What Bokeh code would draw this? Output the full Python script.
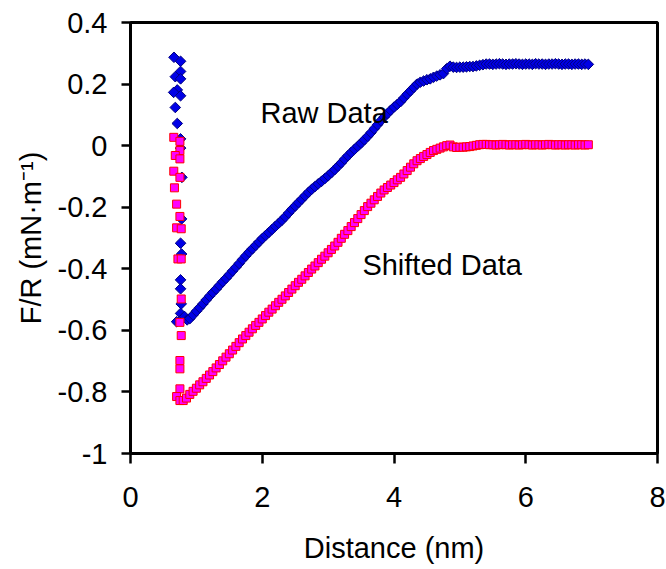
import math
from bokeh.plotting import figure
from bokeh.models import Range1d, FixedTicker, Label
from bokeh.embed import file_html
from bokeh.resources import INLINE

# ---------------- data ----------------
# Raw Data (blue diamonds): steep jump-in region, then the force curve
raw_jump_x = [0.66, 0.76, 0.76, 0.68, 0.76, 0.71, 0.655, 0.76, 0.68, 0.71, 0.76, 0.76,
              0.78, 0.775, 0.76, 0.775, 0.76, 0.76, 0.77, 0.76, 0.70, 0.80]
raw_jump_y = [0.287, 0.274, 0.241, 0.224, 0.217, 0.181, 0.173, 0.162, 0.124, 0.072, 0.022, -0.008,
              -0.103, -0.238, -0.317, -0.352, -0.436, -0.465, -0.514, -0.545, -0.572, -0.560]

raw_x = [0.82, 0.86, 0.90, 0.95, 1.00, 1.05, 1.10, 1.15, 1.20, 1.25, 1.30, 1.35, 1.40, 1.45,
         1.50, 1.55, 1.60, 1.65, 1.70, 1.75, 1.80, 1.85, 1.90, 1.95, 2.00, 2.05, 2.10, 2.15,
         2.20, 2.25, 2.30, 2.35, 2.40, 2.45, 2.50, 2.55, 2.60, 2.65, 2.70, 2.75, 2.80, 2.85,
         2.90, 2.95, 3.00, 3.05, 3.10, 3.15, 3.20, 3.25, 3.30, 3.35, 3.40, 3.45, 3.50, 3.55,
         3.60, 3.65, 3.70, 3.75, 3.80, 3.85, 3.90, 3.95, 4.00, 4.05, 4.10, 4.15, 4.20, 4.25,
         4.30, 4.35, 4.40, 4.45, 4.50, 4.55, 4.60, 4.65, 4.70, 4.75, 4.80, 4.85, 4.90, 4.95,
         5.00, 5.05, 5.10, 5.15, 5.20, 5.25, 5.30, 5.35, 5.40, 5.45, 5.50, 5.55, 5.60, 5.65,
         5.70, 5.75, 5.80, 5.85, 5.90, 5.95, 6.00, 6.05, 6.10, 6.15, 6.20, 6.25, 6.30, 6.35,
         6.40, 6.45, 6.50, 6.55, 6.60, 6.65, 6.70, 6.75, 6.80, 6.85, 6.90, 6.95]
raw_y = [-0.555, -0.566, -0.562, -0.550, -0.538, -0.526, -0.514, -0.501, -0.489, -0.477,
         -0.466, -0.454, -0.442, -0.431, -0.419, -0.407, -0.395, -0.383, -0.370, -0.358,
         -0.346, -0.335, -0.324, -0.313, -0.302, -0.292, -0.282, -0.272, -0.262, -0.252,
         -0.242, -0.231, -0.219, -0.207, -0.196, -0.185, -0.174, -0.163, -0.152, -0.142,
         -0.133, -0.124, -0.116, -0.107, -0.098, -0.088, -0.078, -0.067, -0.056, -0.044,
         -0.033, -0.022, -0.012, -0.002, 0.008, 0.019, 0.030, 0.042, 0.055, 0.068,
         0.081, 0.093, 0.104, 0.115, 0.125, 0.134, 0.143, 0.155, 0.167, 0.178,
         0.189, 0.200, 0.206, 0.210, 0.214, 0.217, 0.222, 0.226, 0.230, 0.234,
         0.250, 0.258, 0.255, 0.254, 0.255, 0.255, 0.256, 0.257, 0.257, 0.259,
         0.261, 0.263, 0.265, 0.265, 0.264, 0.265, 0.266, 0.265, 0.264, 0.265,
         0.265, 0.266, 0.265, 0.264, 0.265, 0.265, 0.264, 0.266, 0.265, 0.265,
         0.264, 0.265, 0.265, 0.266, 0.265, 0.264, 0.265, 0.265, 0.264, 0.265,
         0.265, 0.264, 0.265, 0.264]

# Shifted Data (pink squares)
shift_jump_x = [0.657, 0.75, 0.75, 0.68, 0.75, 0.657, 0.75, 0.667, 0.70, 0.75, 0.70, 0.77,
                0.72, 0.77, 0.77, 0.75, 0.77, 0.75, 0.75, 0.75, 0.70, 0.75]
shift_jump_y = [0.027, 0.014, -0.016, -0.032, -0.043, -0.083, -0.103, -0.137, -0.190, -0.230,
                -0.267, -0.270, -0.368, -0.368, -0.498, -0.574, -0.617, -0.698, -0.725, -0.790,
                -0.815, -0.828]

shift_x = [0.80, 0.85, 0.90, 0.95, 1.00, 1.05, 1.10, 1.15, 1.20, 1.25, 1.30, 1.35, 1.40, 1.45,
           1.50, 1.55, 1.60, 1.65, 1.70, 1.75, 1.80, 1.85, 1.90, 1.95, 2.00, 2.05, 2.10, 2.15,
           2.20, 2.25, 2.30, 2.35, 2.40, 2.45, 2.50, 2.55, 2.60, 2.65, 2.70, 2.75, 2.80, 2.85,
           2.90, 2.95, 3.00, 3.05, 3.10, 3.15, 3.20, 3.25, 3.30, 3.35, 3.40, 3.45, 3.50, 3.55,
           3.60, 3.65, 3.70, 3.75, 3.80, 3.85, 3.90, 3.95, 4.00, 4.05, 4.10, 4.15, 4.20, 4.25,
           4.30, 4.35, 4.40, 4.45, 4.50, 4.55, 4.60, 4.65, 4.70, 4.75, 4.80, 4.85, 4.90, 4.95,
           5.00, 5.05, 5.10, 5.15, 5.20, 5.25, 5.30, 5.35, 5.40, 5.45, 5.50, 5.55, 5.60, 5.65,
           5.70, 5.75, 5.80, 5.85, 5.90, 5.95, 6.00, 6.05, 6.10, 6.15, 6.20, 6.25, 6.30, 6.35,
           6.40, 6.45, 6.50, 6.55, 6.60, 6.65, 6.70, 6.75, 6.80, 6.85, 6.90, 6.95]
shift_y = [-0.828, -0.820, -0.808, -0.798, -0.788, -0.777, -0.767, -0.756, -0.745, -0.734,
           -0.722, -0.711, -0.699, -0.687, -0.676, -0.664, -0.652, -0.640, -0.628, -0.617,
           -0.606, -0.595, -0.584, -0.574, -0.563, -0.552, -0.541, -0.531, -0.520, -0.509,
           -0.499, -0.488, -0.477, -0.466, -0.455, -0.444, -0.434, -0.423, -0.412, -0.401,
           -0.391, -0.380, -0.369, -0.359, -0.348, -0.337, -0.326, -0.314, -0.301, -0.288,
           -0.276, -0.263, -0.250, -0.237, -0.224, -0.211, -0.198, -0.187, -0.176, -0.165,
           -0.154, -0.144, -0.136, -0.128, -0.120, -0.111, -0.103, -0.092, -0.081, -0.070,
           -0.059, -0.049, -0.042, -0.035, -0.029, -0.022, -0.016, -0.012, -0.008, -0.004,
           0.000, 0.002, -0.004, -0.006, -0.005, -0.005, -0.004, -0.003, -0.001, 0.001,
           0.003, 0.004, 0.004, 0.003, 0.003, 0.002, 0.003, 0.004, 0.003, 0.002,
           0.003, 0.003, 0.002, 0.003, 0.004, 0.003, 0.002, 0.003, 0.003, 0.002,
           0.003, 0.004, 0.003, 0.002, 0.003, 0.003, 0.002, 0.003, 0.003, 0.002,
           0.003, 0.003, 0.002, 0.003]

x_ticks = [0, 2, 4, 6, 8]
x_tick_labels = ["0", "2", "4", "6", "8"]
y_ticks = [-1, -0.8, -0.6, -0.4, -0.2, 0, 0.2, 0.4]
y_tick_labels = ["-1", "-0.8", "-0.6", "-0.4", "-0.2", "0", "0.2", "0.4"]

# ---------------- figure ----------------
FONT = "Liberation Sans"
FS = "29px"

p = figure(width=666, height=569, output_backend="svg", toolbar_location=None,
           x_range=Range1d(0, 8), y_range=Range1d(-1, 0.4),
           min_border_left=130, min_border_right=9, min_border_top=22, min_border_bottom=116)

p.background_fill_color = "white"
p.border_fill_color = "white"
p.grid.visible = False
p.outline_line_color = "black"
p.outline_line_width = 3

for ax in (p.xaxis[0], p.yaxis[0]):
    ax.axis_line_color = "black"
    ax.axis_line_width = 3
    ax.major_tick_line_color = "black"
    ax.major_tick_line_width = 2.5
    ax.minor_tick_line_color = None
    ax.major_tick_in = 0
    ax.major_label_text_font = FONT
    ax.major_label_text_font_size = FS
    ax.major_label_text_color = "black"
    ax.axis_label_text_font = FONT
    ax.axis_label_text_font_size = FS
    ax.axis_label_text_font_style = "normal"
    ax.axis_label_text_color = "black"

p.xaxis.ticker = FixedTicker(ticks=x_ticks)
p.xaxis.major_label_overrides = dict(zip(x_ticks, x_tick_labels))
p.xaxis.major_tick_out = 10
p.xaxis.major_label_standoff = 23
p.xaxis.axis_label = "Distance (nm)"
p.xaxis.axis_label_standoff = 22

p.yaxis.ticker = FixedTicker(ticks=y_ticks)
p.yaxis.major_label_overrides = dict(zip(y_ticks, y_tick_labels))
p.yaxis.major_tick_out = 9
p.yaxis.major_label_standoff = 14
p.yaxis.axis_label = "F/R (mN\u00b7m\u207b\u00b9)"
p.yaxis.axis_label_standoff = 8

# Raw data (blue diamonds)
p.scatter(raw_jump_x + raw_x, raw_jump_y + raw_y, marker="square", angle=math.pi / 4,
          size=7.5, fill_color="#0000E6", line_color="#000080", line_width=1)
# Shifted data (pink squares)
p.scatter(shift_jump_x + shift_x, shift_jump_y + shift_y, marker="square",
          size=8, fill_color="#FF00FF", line_color="#FF0000", line_width=1)

p.add_layout(Label(x=1.973, y=0.1075, text="Raw Data", text_font=FONT, text_font_size=FS,
                   text_color="black", text_baseline="alphabetic", text_align="left"))
p.add_layout(Label(x=3.52, y=-0.389, text="Shifted Data", text_font=FONT, text_font_size=FS,
                   text_color="black", text_baseline="alphabetic", text_align="left"))

open("out.html", "w").write(file_html(p, INLINE))
